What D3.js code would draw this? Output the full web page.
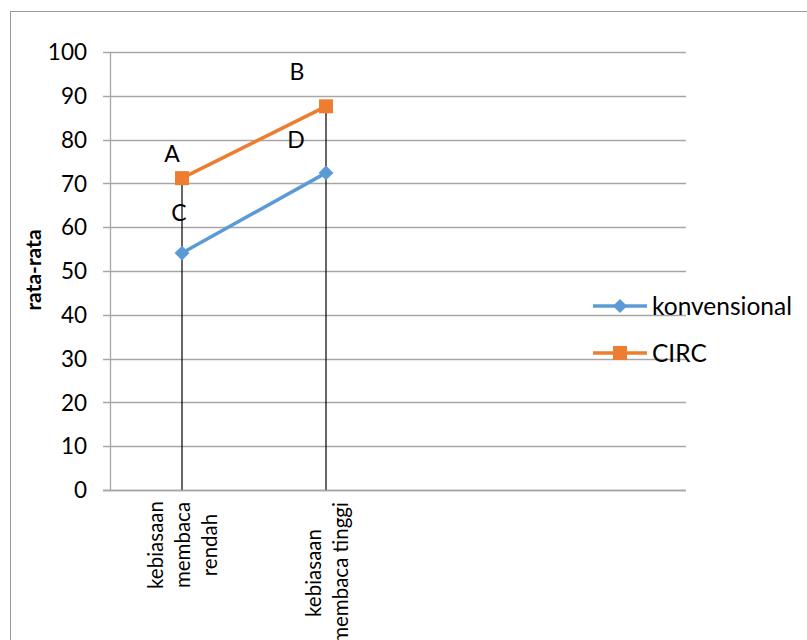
<!DOCTYPE html>
<html><head><meta charset="utf-8">
<script src="https://cdn.jsdelivr.net/npm/d3@7"></script>
<style>body{margin:0;background:#fff}svg{display:block;font-family:Lato,"Open Sans",sans-serif}</style>
</head><body><div id="chart"></div>
<script>
const categories = ["kebiasaan membaca rendah", "kebiasaan membaca tinggi", "", ""];
const categoryLines = [["kebiasaan", "membaca", "rendah"], ["kebiasaan", "membaca tinggi"]];
const seriesNames = ["konvensional", "CIRC"];
const konvensional = [54.1, 72.4];
const circ = [71.2, 87.6];
const pointLabels = [["C", "D"], ["A", "B"]];
const yTicks = [0, 10, 20, 30, 40, 50, 60, 70, 80, 90, 100];
const colors = ["#5B9BD5", "#ED7D31"];

const W = 807, H = 640;
const svg = d3.select("#chart").append("svg").attr("width", W).attr("height", H);
svg.append("rect").attr("x", 10.5).attr("y", 11.5).attr("width", 820).attr("height", 650)
  .attr("fill", "none").attr("stroke", "#9a9a9a").attr("stroke-width", 1);

const x = d3.scaleBand().domain(d3.range(categories.length)).range([110, 686]);
const y = d3.scaleLinear().domain([0, 100]).range([490, 52]);
const cx = i => x(i) + x.bandwidth() / 2;

// gridlines
svg.append("g").selectAll("line").data(yTicks).join("line")
  .attr("x1", 103).attr("x2", 686).attr("y1", d => Math.round(y(d)) + 0.5).attr("y2", d => Math.round(y(d)) + 0.5)
  .attr("stroke", "#a6a6a6").attr("stroke-width", 1.3);
// y axis line
svg.append("line").attr("x1", 110.5).attr("x2", 110.5).attr("y1", y(100)).attr("y2", y(0))
  .attr("stroke", "#a6a6a6").attr("stroke-width", 1.3);
// y tick labels
svg.append("g").selectAll("text").data(yTicks).join("text")
  .attr("x", 87).attr("y", d => y(d)).attr("dy", "0.36em").attr("text-anchor", "end")
  .attr("font-size", 22.5).attr("fill", "#000").text(d => d);
// y axis title
svg.append("text").attr("transform", "translate(41,270) rotate(-90)").attr("text-anchor", "middle")
  .attr("font-size", 21).attr("font-weight", "bold").text("rata-rata");

// drop lines (max of series at each category)
const maxVals = circ.map((v, i) => Math.max(v, konvensional[i]));
svg.append("g").selectAll("line").data(maxVals).join("line")
  .attr("x1", (d, i) => cx(i)).attr("x2", (d, i) => cx(i)).attr("y1", d => y(d)).attr("y2", y(0))
  .attr("stroke", "#000").attr("stroke-width", 1.2);

const allSeries = [konvensional, circ];
const line = d3.line().x((d, i) => cx(i)).y(d => y(d));
allSeries.forEach((s, k) => {
  svg.append("path").datum(s).attr("d", line).attr("fill", "none").attr("stroke", colors[k]).attr("stroke-width", 3.5);
  const g = svg.append("g");
  if (k === 0) {
    g.selectAll("path.m").data(s).join("path").attr("class", "m")
      .attr("d", d3.symbol().type(d3.symbolSquare).size(110))
      .attr("transform", (d, i) => `translate(${cx(i)},${y(d)}) rotate(45)`)
      .attr("fill", colors[k]);
  } else {
    g.selectAll("rect").data(s).join("rect")
      .attr("x", (d, i) => cx(i) - 7).attr("y", d => y(d) - 7).attr("width", 14).attr("height", 14)
      .attr("fill", colors[k]);
  }
});

// point labels
const labelOffsets = [[[-3, -40], [-30, -33]], [[-10, -24], [-29, -35]]];
allSeries.forEach((s, k) => {
  svg.append("g").selectAll("text").data(s).join("text")
    .attr("x", (d, i) => cx(i) + labelOffsets[k][i][0]).attr("y", (d, i) => y(d) + labelOffsets[k][i][1])
    .attr("dy", "0.36em").attr("text-anchor", "middle").attr("font-size", 23)
    .text((d, i) => pointLabels[k][i]);
});

// x axis line
svg.append("line").attr("x1", 103).attr("x2", 686).attr("y1", y(0) + 0.5).attr("y2", y(0) + 0.5)
  .attr("stroke", "#a6a6a6").attr("stroke-width", 1.3);

// x labels (rotated)
const xCenters = [545, 573];
categoryLines.forEach((lines, i) => {
  const n = lines.length;
  lines.forEach((t, j) => {
    const lx = cx(i) + (j - (n - 1) / 2) * 27;
    svg.append("text").attr("transform", `translate(${lx + 8},${xCenters[i]}) rotate(-90)`)
      .attr("text-anchor", "middle").attr("font-size", 20.5).text(t);
  });
});

// legend
seriesNames.forEach((name, k) => {
  const ly = k === 0 ? 306 : 353;
  const g = svg.append("g");
  g.append("line").attr("x1", 593).attr("x2", 647).attr("y1", ly).attr("y2", ly)
    .attr("stroke", colors[k]).attr("stroke-width", 3.5);
  if (k === 0) {
    g.append("path").attr("d", d3.symbol().type(d3.symbolSquare).size(100))
      .attr("transform", `translate(620,${ly}) rotate(45)`).attr("fill", colors[k]);
  } else {
    g.append("rect").attr("x", 613).attr("y", ly - 7).attr("width", 14).attr("height", 14).attr("fill", colors[k]);
  }
  g.append("text").attr("x", 652).attr("y", ly).attr("dy", "0.36em").attr("font-size", 24.5).text(name);
});
</script></body></html>
